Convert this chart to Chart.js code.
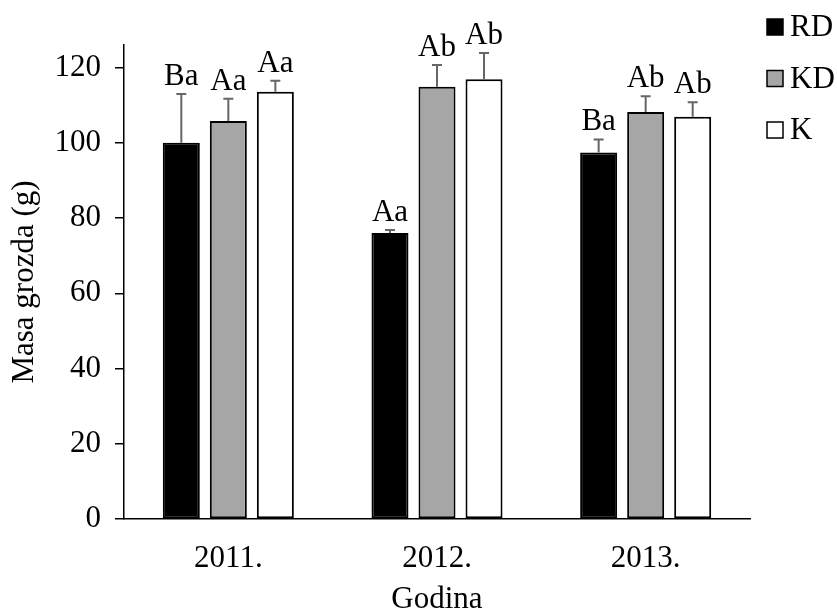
<!DOCTYPE html>
<html>
<head>
<meta charset="utf-8">
<script src="https://cdn.jsdelivr.net/npm/chart.js@4.4.1/dist/chart.umd.min.js"></script>
<style>
  html, body { margin: 0; padding: 0; background: #ffffff; }
  #wrap { width: 837px; height: 612px; }
</style>
</head>
<body>
<div id="wrap"><canvas id="c" width="837" height="612"></canvas></div>
<script>
// ---- data ----
const categories = ['2011.', '2012.', '2013.'];
const seriesNames = ['RD', 'KD', 'K'];
const rdValues = [100, 76, 97.4];
const kdValues = [105.8, 114.9, 108.2];
const kValues  = [113.6, 116.9, 106.9];
const rdErrors = [13, 0.8, 3.5];
const kdErrors = [5.9, 5.8, 4.2];
const kErrors  = [2.9, 7.0, 3.9];
const rdLetters = ['Ba', 'Aa', 'Ba'];
const kdLetters = ['Aa', 'Ab', 'Ab'];
const kLetters  = ['Aa', 'Ab', 'Ab'];
const yTickValues = [0, 20, 40, 60, 80, 100, 120];
const yTitle = 'Masa grozda (g)';
const xTitle = 'Godina';

// ---- styles ----
const FONT = 'Liberation Serif, Times New Roman, serif';
const FS = 31;
const colors = ['#000000', '#a6a6a6', '#ffffff'];

const errorsBySeries = [rdErrors, kdErrors, kErrors];
const lettersBySeries = [rdLetters, kdLetters, kLetters];

const errorBarPlugin = {
  id: 'errorBars',
  afterDatasetsDraw(chart) {
    const ctx = chart.ctx;
    const yScale = chart.scales.y;
    ctx.save();
    chart.data.datasets.forEach((ds, i) => {
      const meta = chart.getDatasetMeta(i);
      meta.data.forEach((bar, j) => {
        const v = ds.data[j];
        const e = errorsBySeries[i][j];
        const yTop = yScale.getPixelForValue(v + e);
        ctx.strokeStyle = '#666666';
        ctx.lineWidth = 2;
        ctx.beginPath();
        ctx.moveTo(bar.x, bar.y);
        ctx.lineTo(bar.x, yTop);
        ctx.moveTo(bar.x - 5, yTop);
        ctx.lineTo(bar.x + 5, yTop);
        ctx.stroke();
        ctx.fillStyle = '#000000';
        ctx.font = FS + 'px ' + FONT;
        ctx.textAlign = 'center';
        ctx.textBaseline = 'alphabetic';
        ctx.fillText(lettersBySeries[i][j], bar.x, yTop - 9);
      });
    });
    ctx.restore();
  }
};

const legendPlugin = {
  id: 'customLegend',
  afterDraw(chart) {
    const ctx = chart.ctx;
    ctx.save();
    chart.data.datasets.forEach((ds, i) => {
      const cy = 27 + i * 51.5;
      ctx.fillStyle = ds.backgroundColor;
      ctx.fillRect(767, cy - 8, 16, 16);
      ctx.strokeStyle = '#000000';
      ctx.lineWidth = 1.5;
      ctx.strokeRect(767, cy - 8, 16, 16);
      ctx.fillStyle = '#000000';
      ctx.font = FS + 'px ' + FONT;
      ctx.textAlign = 'left';
      ctx.textBaseline = 'middle';
      ctx.fillText(ds.label, 790, cy + 1);
    });
    ctx.restore();
  }
};

const values = [rdValues, kdValues, kValues];
const datasets = seriesNames.map((name, i) => ({
  label: name,
  data: values[i],
  backgroundColor: colors[i],
  borderColor: '#000000',
  borderWidth: 2,
  borderSkipped: false,
  categoryPercentage: 0.676,
  barPercentage: 0.787
}));

new Chart(document.getElementById('c'), {
  type: 'bar',
  data: { labels: categories, datasets },
  options: {
    responsive: false,
    animation: false,
    devicePixelRatio: 1,
    layout: { padding: { top: 45, right: 87, bottom: 0, left: 0 } },
    plugins: {
      legend: { display: false },
      tooltip: { enabled: false }
    },
    scales: {
      x: {
        grid: { display: false },
        border: { display: true, color: '#000000', width: 1.5 },
        ticks: { color: '#000000', font: { family: FONT, size: FS }, padding: 13, maxRotation: 0 },
        title: { display: true, text: xTitle, color: '#000000', font: { family: FONT, size: FS }, padding: { top: 0, bottom: -6 } },
        afterFit(scale) { scale.height = 93; }
      },
      y: {
        min: 0,
        max: 126,
        ticks: { stepSize: 20, color: '#000000', font: { family: FONT, size: FS }, padding: 14 },
        afterBuildTicks(scale) {
          scale.ticks = yTickValues.map(v => ({ value: v }));
        },
        grid: { display: true, drawOnChartArea: false, drawTicks: true, tickLength: 9, color: '#000000', lineWidth: 1.5 },
        border: { display: true, color: '#000000', width: 1.5 },
        title: { display: true, text: yTitle, color: '#000000', font: { family: FONT, size: FS }, padding: { top: 6, bottom: 0 } },
        afterFit(scale) { scale.width = 124; }
      }
    }
  },
  plugins: [errorBarPlugin, legendPlugin]
});
</script>
</body>
</html>
